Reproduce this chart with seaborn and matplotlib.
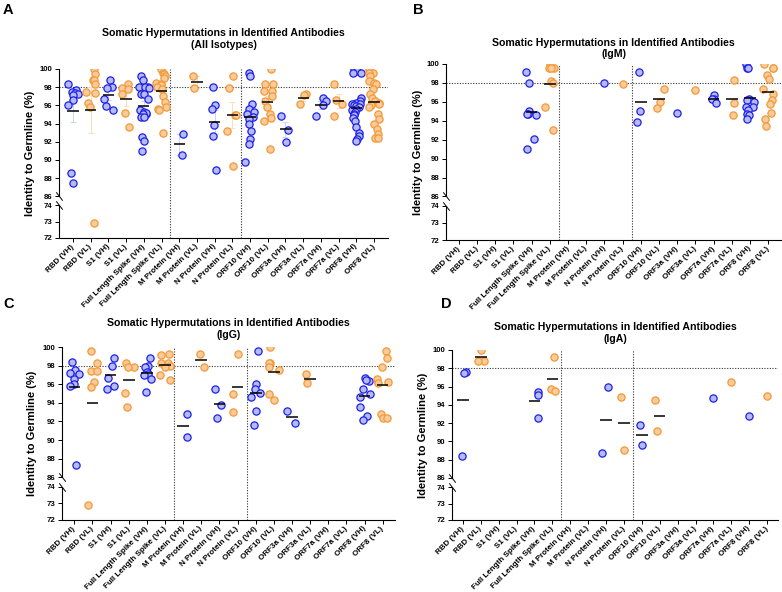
import numpy as np
import pandas as pd
import matplotlib
matplotlib.use("Agg")
import matplotlib.pyplot as plt
from matplotlib.path import Path
import seaborn as sns

# ---------------- data ----------------
targets = ["RBD", "S1", "Full Length Spike", "M Protein", "N Protein",
           "ORF10", "ORF3a", "ORF7a", "ORF8"]
chains = ["VH", "VL"]
labels = [f"{t} ({c})" for t in targets for c in chains]
yticks = [72, 73, 74, 86, 88, 90, 92, 94, 96, 98, 100]

# A: all isotypes
all_vh = [
    [98.4, 97.7, 97.5, 97.4, 97.2, 97.1, 96.6, 96.0, 88.6, 87.5],
    [98.75, 98.0, 97.9, 96.75, 95.96, 95.5],
    [99.2, 98.8, 98.0, 98.0, 98.0, 97.9, 97.3, 97.2, 96.7, 95.5, 95.3, 95.1,
     95.2, 95.0, 94.7, 94.7, 92.5, 92.1, 91.0],
    [92.9, 90.5],
    [98.0, 96.0, 95.6, 93.8, 92.6, 88.9],
    [99.6, 99.25, 96.1, 95.6, 95.3, 95.1, 94.7, 94.5, 94.0, 93.2, 92.3, 91.8, 89.8],
    [94.8, 93.3, 92.0],
    [96.8, 96.5, 96.0, 94.8],
    [100, 99.8, 99.6, 99.6, 96.8, 96.5, 96.3, 96.2, 96.1, 96.0, 95.9, 95.8,
     95.6, 95.5, 95.3, 95.1, 94.9, 94.6, 94.3, 93.6, 93.0, 92.6, 92.3, 92.1],
]
all_vl = [
    [100, 99.5, 98.8, 98.75, 98.3, 97.5, 97.4, 96.3, 95.8, 72.9],
    [98.3, 97.9, 97.75, 97.2, 95.2, 93.6],
    [100, 99.6, 99.5, 99.2, 99.0, 98.5, 98.3, 98.2, 98.0, 97.8, 97.0, 96.4,
     95.8, 95.6, 95.5, 93.0],
    [99.2, 97.9],
    [99.25, 97.9, 94.96, 94.96, 93.2, 89.3],
    [100, 98.4, 98.4, 97.6, 97.6, 97.0, 96.5, 95.8, 95.1, 94.6, 94.3, 91.2],
    [97.3, 97.1, 96.1],
    [98.4, 96.6, 96.1, 94.8],
    [100, 99.6, 99.6, 99.2, 98.7, 98.5, 98.3, 97.8, 97.3, 96.8, 96.5, 96.3,
     96.2, 96.0, 95.8, 95.0, 94.5, 94.0, 93.4, 92.9, 92.4, 92.4],
]

# B: IgM
igm_vh = [[], [], [99.2, 98.0, 95.0, 94.7, 94.6, 94.7, 92.1, 91.0], [], [98.0],
          [99.2, 95.0, 93.9], [94.8], [96.7, 96.3, 96.3, 95.9],
          [100, 99.6, 99.6, 96.3, 96.2, 96.0, 95.5, 95.5, 95.1, 94.7, 94.6, 94.2]]
igm_vl = [[], [], [100, 99.6, 99.6, 99.6, 98.2, 98.0, 95.5, 93.0], [], [97.9],
          [97.4, 96.0, 95.4], [97.2], [98.3, 95.9, 94.6],
          [100, 99.6, 99.6, 98.8, 98.4, 97.4, 96.8, 96.2, 95.8, 94.8, 94.2, 93.5]]

# C: IgG
igg_vh = [[98.4, 97.5, 97.2, 97.1, 96.6, 96.0, 95.8, 87.3],
          [98.8, 98.0, 96.7, 95.8, 95.5],
          [98.8, 98.0, 97.9, 97.3, 97.1, 97.0, 96.6, 95.2],
          [92.8, 90.3], [95.5, 93.8, 92.4],
          [99.6, 96.0, 95.5, 95.1, 94.6, 93.1, 91.6],
          [93.1, 91.8], [],
          [96.7, 96.3, 96.4, 95.5, 95.0, 94.6, 93.5, 92.6, 92.1]]
igg_vl = [[99.6, 98.3, 97.4, 97.4, 96.2, 95.7, 72.9],
          [98.3, 97.8, 97.8, 95.1, 93.5],
          [99.2, 99.1, 98.3, 98.3, 98.0, 97.8, 97.0, 96.4],
          [99.2, 97.9], [99.2, 94.9, 93.0],
          [100, 98.3, 98.3, 97.8, 97.5, 95.0, 94.3],
          [97.1, 96.1], [],
          [99.6, 98.8, 97.9, 96.6, 96.2, 96.1, 92.8, 92.4, 92.4]]

# D: IgA
iga_vh = [[97.6, 97.5, 88.4], [], [95.4, 95.1, 92.6], [], [95.9, 88.7],
          [91.8, 89.6], [], [94.7], [92.8]]
iga_vl = [[100, 98.8, 98.8], [], [99.2, 95.7, 95.5], [], [94.9, 89.1],
          [94.5, 91.1], [], [96.5], [95.0]]

subtitles = ["(All Isotypes)", "(IgM)", "(IgG)", "(IgA)"]
main_title = "Somatic Hypermutations in Identified Antibodies"
ylabel_text = "Identity to Germline (%)"

# ---------------- style ----------------
sns.set_theme(style="ticks", rc={"axes.edgecolor": "black", "xtick.color": "black",
                                 "ytick.color": "black", "axes.linewidth": 0.8,
                                 "text.color": "black"})
plt.rcParams["font.family"] = ["Liberation Sans", "DejaVu Sans"]
plt.rcParams["font.weight"] = "bold"

BLUE_E, BLUE_F, BLUE_ERR = "#1f1fe8", "#b4bbf3", "#cdd1f5"
ORNG_E, ORNG_F, ORNG_ERR = "#f39935", "#f9cb9c", "#fadcc0"

# broken y scale: 72-74 stretched, gap between 74 and 86
LOW, GAP = 1.8, 1.0


def fwd(y):
    y = np.asarray(y, dtype=float)
    return np.where(y <= 74, (y - 72) * LOW,
                    np.where(y < 86, 2 * LOW + (y - 74) * GAP / 12,
                             2 * LOW + GAP + (y - 86)))


def inv(t):
    t = np.asarray(t, dtype=float)
    a, b = 2 * LOW, 2 * LOW + GAP
    return np.where(t <= a, 72 + t / LOW,
                    np.where(t < b, 74 + (t - a) * 12 / GAP, 86 + (t - b)))


def long_df(vh, vl):
    rows = []
    for t, a, b in zip(targets, vh, vl):
        rows += [(f"{t} (VH)", "VH", v) for v in a]
        rows += [(f"{t} (VL)", "VL", v) for v in b]
    return pd.DataFrame(rows, columns=["label", "chain", "identity"])


W, H = 782, 592
fig = plt.figure(figsize=(W / 100, H / 100), dpi=100)
np.random.seed(7)

brk = Path([(-1.0, 1.3), (1.0, -1.3)])


def draw_panel(rect, xlim, vh, vl, subtitle, letter, letter_xy, title_y, ylab_x, errbars):
    l, r, t, b = rect
    ax = fig.add_axes([l / W, 1 - b / H, (r - l) / W, (b - t) / H])
    ax.set_yscale("function", functions=(fwd, inv))
    ax.set_ylim(72, 100)
    df = long_df(vh, vl)
    for chain, fc, ec in [("VH", BLUE_F, BLUE_E), ("VL", ORNG_F, ORNG_E)]:
        sub = df[df["chain"] == chain]
        sns.stripplot(data=sub, x="label", y="identity", order=labels, color=fc,
                      edgecolor=ec, linewidth=0.9, size=5.2, jitter=0.3, ax=ax,
                      zorder=3)
    stats = df.groupby("label", sort=False)["identity"].agg(["mean", "sem", "count"])
    for i, lab in enumerate(labels):
        if lab not in stats.index or stats.loc[lab, "count"] < 2:
            continue
        m, s = stats.loc[lab, "mean"], stats.loc[lab, "sem"]
        if errbars:
            ax.errorbar(i, m, yerr=s, color=BLUE_ERR if "(VH)" in lab else ORNG_ERR,
                        capsize=2.4, elinewidth=0.7, capthick=0.7, zorder=2)
        ax.hlines(m, i - 0.32, i + 0.32, color="black", lw=1.1, zorder=4)
    ax.axhline(98, color="#333333", ls=(0, (1, 1.4)), lw=0.8, zorder=1)
    for xv in (5.5, 9.5):
        ax.axvline(xv, color="#333333", ls=(0, (1, 1.4)), lw=0.8, zorder=1)
    ax.set_xlim(*xlim)
    ax.set_ylim(72, 100)
    ax.set_yticks(yticks)
    ax.set_yticklabels([str(v) for v in yticks], fontsize=5.6)
    ax.minorticks_off()
    ax.set_xticks(range(len(labels)))
    ax.set_xticklabels(labels, rotation=45, ha="right", va="center",
                       rotation_mode="anchor", fontsize=5.8)
    ax.tick_params(axis="both", length=3, width=0.7, pad=2)
    ax.tick_params(axis="x", pad=2.5)
    ax.set_xlabel("")
    ax.set_ylabel("")
    ax.spines["top"].set_visible(False)
    ax.spines["right"].set_visible(False)
    ax.spines["left"].set_bounds(86, 100)
    ax.plot([0, 0], [72, 74], transform=ax.get_yaxis_transform(), color="black",
            lw=0.8, clip_on=False, solid_capstyle="butt")
    ax.plot([0, 0], [86, 74], transform=ax.get_yaxis_transform(), marker=brk,
            markersize=6, ls="none", color="black", mew=0.7, clip_on=False)
    cx = (l + r) / 2 / W
    fig.text(cx, 1 - title_y / H, main_title + "\n" + subtitle, ha="center",
             va="center", ma="center", fontsize=7.6, fontweight="bold", linespacing=1.15)
    fig.text(letter_xy[0] / W, 1 - letter_xy[1] / H, letter, ha="left", va="top",
             fontsize=10.5, fontweight="bold")
    fig.text(ylab_x / W, 1 - (t + b) / 2 / H, ylabel_text, rotation=90, ha="center",
             va="center", fontsize=8, fontweight="bold")
    return ax


draw_panel((59, 388, 69, 238), (-0.79, 17.79), all_vh, all_vl, subtitles[0], "A",
           (3, 3), 39, 30, True)
draw_panel((446, 781, 64, 240), (-0.71, 17.71), igm_vh, igm_vl, subtitles[1], "B",
           (413, 3), 48.5, 418, False)
draw_panel((62, 395, 347, 520), (-0.68, 17.68), igg_vh, igg_vl, subtitles[2], "C",
           (3, 297), 329, 32, False)
draw_panel((452, 778, 350, 520), (-0.61, 17.61), iga_vh, iga_vl, subtitles[3], "D",
           (441, 297), 333, 423, False)

fig.savefig("out.png", dpi=100)
